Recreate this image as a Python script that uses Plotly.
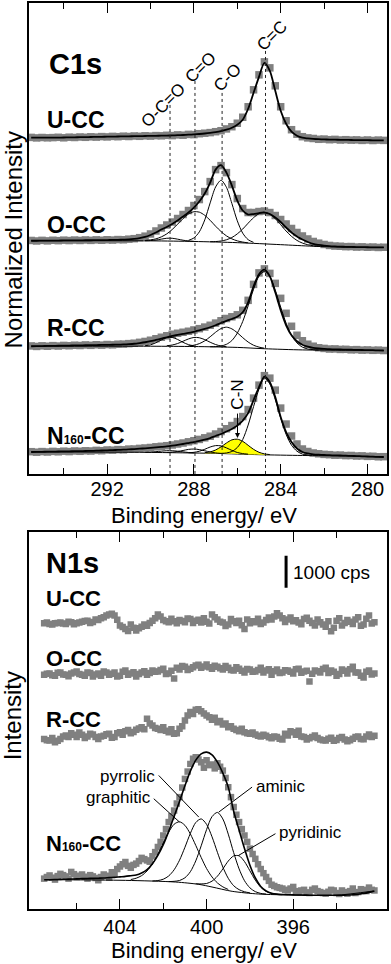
import plotly.graph_objects as go

FONT = "Liberation Sans, Arial, Helvetica, sans-serif"
GRAY = "#808080"

# ------------------------------------------------------------------ C1s data
C1S_BE = [295.5, 295.25, 295.0, 294.75, 294.5, 294.25, 294.0, 293.75, 293.5, 293.25,
          293.0, 292.75, 292.5, 292.25, 292.0, 291.75, 291.5, 291.25, 291.0, 290.75,
          290.5, 290.25, 290.0, 289.75, 289.5, 289.25, 289.0, 288.75, 288.5, 288.25,
          288.0, 287.75, 287.5, 287.25, 287.0, 286.75, 286.5, 286.25, 286.0, 285.75,
          285.5, 285.25, 285.0, 284.75, 284.5, 284.25, 284.0, 283.75, 283.5, 283.25,
          283.0, 282.75, 282.5, 282.25, 282.0, 281.75, 281.5, 281.25, 281.0, 280.75,
          280.5, 280.25, 280.0, 279.75, 279.5, 279.25]

U_C1S_DATA = [337.3, 336.8, 337.2, 336.9, 337.1, 337.4, 336.9, 337.5, 337.2, 337.7,
              337.4, 337.9, 337.6, 338.1, 337.8, 338.3, 338.0, 338.5, 338.2, 338.7,
              338.4, 338.9, 338.6, 339.1, 338.9, 339.4, 339.1, 339.8, 339.5, 340.3,
              340.1, 341.0, 341.5, 342.1, 343.0, 344.0, 345.8, 348.0, 351.5, 357.5,
              368, 385, 400, 413, 407, 389, 368, 354, 345, 340.5,
              338, 336.8, 336.2, 335.4, 335.6, 335.0, 335.3, 334.7, 335.0, 334.6,
              334.8, 334.3, 334.7, 334.2, 334.6, 334.3]
U_C1S_FIT = [337, 337, 337, 337, 337, 337.1, 337.2, 337.3, 337.4, 337.5,
             337.6, 337.7, 337.8, 337.9, 338, 338.1, 338.2, 338.3, 338.4, 338.5,
             338.6, 338.7, 338.8, 338.9, 339, 339.1, 339.3, 339.5, 339.7, 340,
             340.3, 340.7, 341.2, 341.8, 342.5, 343.5, 345, 347, 350, 355,
             366, 382, 398, 412, 404, 384, 364, 351, 343, 339,
             337, 336.3, 335.8, 335.5, 335.3, 335.1, 335, 334.9, 334.8, 334.7,
             334.6, 334.5, 334.5, 334.4, 334.4, 334.3]

O_C1S_DATA = [234.0, 233.5, 234.1, 233.6, 234.2, 233.8, 234.3, 233.9, 234.4, 234.0,
              234.5, 234.1, 234.6, 234.2, 234.7, 234.4, 234.9, 234.7, 235.3, 235.8,
              236.8, 238.3, 240.5, 243.5, 246.5, 249.5, 252.5, 256, 260, 264,
              269, 275, 283, 293, 305, 309, 302, 290, 276, 266,
              262, 262, 263, 263.5, 262, 259, 255, 250.5, 246, 242,
              238.5, 235.5, 233, 231.3, 230, 229, 228.4, 228.2, 227.8, 227.9,
              227.4, 227.6, 227.2, 227.4, 227.0, 227.2]
O_C1S_FIT = [233.7, 233.7, 233.8, 233.8, 233.9, 233.9, 234, 234, 234.1, 234.1,
             234.2, 234.2, 234.3, 234.3, 234.4, 234.5, 234.6, 234.8, 235, 235.5,
             236.3, 237.5, 239.5, 242, 245, 247.5, 250.5, 254, 258, 262,
             267, 273, 281, 292, 305, 309.5, 302, 289, 274, 264,
             260, 260.5, 261.5, 262, 260.5, 257, 252.5, 247, 242, 238,
             235, 232.5, 230.5, 229.5, 228.8, 228.3, 228, 227.8, 227.6, 227.5,
             227.4, 227.3, 227.2, 227.1, 227, 227]
O_BG_BE = [295.5, 290, 288, 286, 284, 282.5, 281, 279.25]
O_BG = [233.7, 233.6, 233.0, 231.8, 229.8, 228.2, 227.3, 227.0]
O_OCO_BE = [290.25, 290.0, 289.75, 289.5, 289.25, 289.0, 288.75, 288.5, 288.25, 288.0]
O_OCO = [233.7, 233.9, 234.4, 235.35, 236.2, 236.2, 235.3, 234.25, 233.5, 233.1]
O_CDO_BE = [290.25, 290.0, 289.75, 289.5, 289.25, 289.0, 288.75, 288.5, 288.25, 288.0,
            287.75, 287.5, 287.25, 287.0, 286.75, 286.5, 286.25, 286.0, 285.75, 285.5]
O_CDO = [234.0, 234.6, 235.6, 237.6, 240.6, 245.0, 250.3, 255.9, 260.4, 262.8,
         262.4, 259.2, 254.2, 248.3, 243.0, 238.6, 235.6, 233.6, 232.4, 231.6]
O_CO_BE = [288.25, 288.0, 287.75, 287.5, 287.25, 287.0, 286.75, 286.5, 286.25, 286.0,
           285.75, 285.5, 285.25]
O_CO = [234.1, 236.5, 242.6, 254.6, 271.7, 287.6, 294.3, 287.3, 271.1, 253.7,
        241.3, 234.8, 232.1]
O_CC_BE = [287.25, 287.0, 286.75, 286.5, 286.25, 286.0, 285.75, 285.5, 285.25, 285.0,
           284.75, 284.5, 284.25, 284.0, 283.75, 283.5, 283.25, 283.0, 282.75, 282.5, 282.25]
O_CC = [232.75, 232.9, 233.45, 234.7, 236.95, 240.6, 245.45, 251.3, 256.85, 260.9,
        262.25, 260.4, 255.85, 249.8, 243.45, 238.1, 234.05, 231.4, 229.7, 228.7, 228.2]

R_C1S_DATA = [128.3, 127.8, 128.4, 128.0, 128.6, 128.2, 128.8, 128.5, 129.0, 128.7,
              129.3, 128.9, 129.5, 129.1, 129.7, 129.4, 130.0, 130.1, 130.6, 131.0,
              131.9, 132.8, 134.0, 135.5, 137, 138.5, 140, 141, 142, 143,
              144.3, 145.6, 147.2, 149, 151.2, 153.5, 155.8, 157.5, 159.5, 164,
              174, 190, 201.5, 205.5, 201, 191, 176, 161, 148, 139,
              133.5, 130, 128, 126.5, 125.8, 125.2, 125.3, 124.8, 124.9, 124.4,
              124.6, 124.1, 124.3, 123.9, 124.1, 123.7]
R_C1S_FIT = [128, 128.1, 128.2, 128.3, 128.4, 128.5, 128.6, 128.7, 128.8, 128.9,
             129, 129.1, 129.2, 129.3, 129.4, 129.5, 129.6, 129.8, 130.1, 130.5,
             131.2, 132, 133, 134.3, 135.6, 137, 138.3, 139.3, 140.3, 141.3,
             142.5, 143.8, 145.3, 147, 149, 151.3, 153.5, 155.3, 157.5, 162,
             172, 188, 200, 204.7, 198, 182, 164, 149, 139, 133,
             129.5, 127.5, 126.3, 125.7, 125.3, 125, 124.9, 124.7, 124.6, 124.5,
             124.3, 124.2, 124.1, 124, 123.8, 123.7]
R_BG_BE = [295.5, 290, 288, 286, 284.75, 283, 281, 279.25]
R_BG = [128, 128, 127.7, 126.8, 125.5, 124.3, 124, 123.7]
R_OCO_BE = [290.25, 290.0, 289.75, 289.5, 289.25, 289.0, 288.75, 288.5, 288.25, 288.0]
R_OCO = [128.5, 129.4, 131.5, 134.3, 136.6, 136.8, 134.8, 131.9, 129.6, 128.4]
R_CDO_BE = [289.25, 289.0, 288.75, 288.5, 288.25, 288.0, 287.75, 287.5, 287.25, 287.0,
            286.75, 286.5]
R_CDO = [128.5, 129.2, 130.7, 133.0, 135.3, 136.8, 136.5, 134.6, 132.0, 129.7, 128.2, 127.5]
R_CO_BE = [288.25, 288.0, 287.75, 287.5, 287.25, 287.0, 286.75, 286.5, 286.25, 286.0,
           285.75, 285.5, 285.25, 285.0, 284.75]
R_CO = [128.3, 129.0, 130.6, 133.4, 137.5, 142.0, 145.7, 147.1, 145.4, 141.5,
        136.6, 132.2, 129.0, 127.1, 126.0]
R_CC_BE = [287.25, 287.0, 286.75, 286.5, 286.25, 286.0, 285.75, 285.5, 285.25, 285.0,
           284.75, 284.5, 284.25, 284.0, 283.75, 283.5, 283.25, 283.0, 282.75, 282.5, 282.25]
R_CC = [127.5, 127.6, 128.2, 129.9, 133.7, 141.1, 152.8, 168.5, 185.1, 198.3,
        203.0, 197.9, 184.3, 167.2, 151.1, 138.9, 131.3, 127.1, 125.2, 124.5, 124.2]

N_C1S_DATA = [22.3, 21.8, 22.4, 22.0, 22.6, 22.2, 22.8, 22.4, 23.0, 22.7,
              23.2, 23.0, 23.6, 23.3, 24.0, 23.8, 24.4, 24.2, 24.9, 25.0,
              25.6, 26.0, 26.5, 27.2, 27.7, 28.3, 29.0, 30.0, 31.0, 32.2,
              33.3, 34.6, 36.2, 37.8, 40.0, 42.5, 45.3, 48.5, 52.5, 57.5,
              64.5, 76, 89, 98.5, 96, 84, 66, 50, 38, 30,
              25, 22.5, 21, 20.2, 19.6, 19.3, 18.8, 18.9, 18.4, 18.5,
              18.0, 18.1, 17.6, 17.7, 17.2, 17.3]
N_C1S_FIT = [22, 22.1, 22.2, 22.3, 22.4, 22.5, 22.6, 22.7, 22.8, 22.9,
             23, 23.1, 23.3, 23.5, 23.7, 23.9, 24.1, 24.3, 24.6, 24.9,
             25.3, 25.7, 26.1, 26.6, 27.1, 27.6, 28.3, 29.1, 30, 31,
             32, 33.2, 34.5, 36, 38, 40, 42.5, 45, 48.5, 53.5,
             61, 74, 87, 97.5, 92, 77, 57, 42, 32, 25.5,
             22, 20.5, 19.7, 19.3, 19, 18.8, 18.6, 18.5, 18.3, 18.1,
             17.9, 17.7, 17.5, 17.3, 17.1, 17]
N_BG_BE = [295.5, 291, 289, 287, 285, 283, 281, 279.25]
N_BG = [22, 21.8, 21.3, 20.6, 19.3, 18.5, 18, 17]
N_OCO_BE = [290.25, 290.0, 289.75, 289.5, 289.25, 289.0, 288.75, 288.5, 288.25, 288.0]
N_OCO = [21.6, 21.9, 22.3, 22.85, 23.25, 23.25, 22.8, 22.1, 21.5, 21.05]
N_CDO_BE = [289.25, 289.0, 288.75, 288.5, 288.25, 288.0, 287.75, 287.5, 287.25, 287.0, 286.75]
N_CDO = [21.5, 21.8, 22.5, 23.5, 24.6, 24.95, 24.4, 23.2, 22.0, 21.1, 20.6]
N_CO_BE = [288.25, 288.0, 287.75, 287.5, 287.25, 287.0, 286.75, 286.5, 286.25, 286.0,
           285.75, 285.5]
N_CO = [21.25, 21.65, 22.75, 24.7, 27.0, 28.4, 28.1, 26.1, 23.6, 21.5, 20.4, 19.8]
N_CN_BE = [287.5, 287.25, 287.0, 286.75, 286.5, 286.25, 286.0, 285.75, 285.5, 285.25,
           285.0, 284.75, 284.5]
N_CN = [21.3, 22.1, 24.0, 27.15, 31.0, 34.15, 34.85, 32.7, 28.7, 24.65, 21.7, 20.1, 19.4]
N_CN_BASE = [20.8, 20.7, 20.6, 20.45, 20.3, 20.15, 19.95, 19.8, 19.6, 19.45, 19.3, 19.2, 19.1]
N_CC_BE = [286.75, 286.5, 286.25, 286.0, 285.75, 285.5, 285.25, 285.0, 284.75, 284.5,
           284.25, 284.0, 283.75, 283.5, 283.25, 283.0, 282.75]
N_CC = [20.6, 21.0, 22.5, 26.5, 34.5, 49, 67.5, 85, 96.2, 90.1,
        74.6, 55.9, 39.7, 28.8, 22.8, 19.9, 18.9]

C1S_PEAK_NAMES = ["O-C=O", "C=O", "C-O", "C=C"]
C1S_PEAK_BE = [289.1, 287.95, 286.7, 284.7]
C1S_TICKS = [292, 288, 284, 280]
C1S_MINOR = [294, 290, 286, 282]
SAMPLES = ["U-CC", "O-CC", "R-CC", 'N<span style="font-size:12px">160</span>-CC']

# ------------------------------------------------------------------ N1s data (cps)
N1S_BE = [407.5, 407.25, 407.0, 406.75, 406.5, 406.25, 406.0, 405.75, 405.5, 405.25,
          405.0, 404.75, 404.5, 404.25, 404.0, 403.75, 403.5, 403.25, 403.0, 402.75,
          402.5, 402.25, 402.0, 401.75, 401.5, 401.25, 401.0, 400.75, 400.5, 400.25,
          400.0, 399.75, 399.5, 399.25, 399.0, 398.75, 398.5, 398.25, 398.0, 397.75,
          397.5, 397.25, 397.0, 396.75, 396.5, 396.25, 396.0, 395.75, 395.5, 395.25,
          395.0, 394.75, 394.5, 394.25, 394.0, 393.75, 393.5, 393.25, 393.0, 392.75,
          392.5, 392.25]
N1S_BE_B = [407.375, 407.125, 406.875, 406.625, 406.375, 406.125, 405.875, 405.625,
            405.375, 405.125, 404.875, 404.625, 404.375, 404.125, 403.875, 403.625,
            403.375, 403.125, 402.875, 402.625, 402.375, 402.125, 401.875, 401.625,
            401.375, 401.125, 400.875, 400.625, 400.375, 400.125, 399.875, 399.625,
            399.375, 399.125, 398.875, 398.625, 398.375, 398.125, 397.875, 397.625,
            397.375, 397.125, 396.875, 396.625, 396.375, 396.125, 395.875, 395.625,
            395.375, 395.125, 394.875, 394.625, 394.375, 394.125, 393.875, 393.625,
            393.375, 393.125, 392.875, 392.625, 392.375]
U_N1S = [8940, 8920, 8940, 8960, 8920, 8970, 8940, 8990, 9020, 8980,
         9040, 9130, 9210, 9180, 8870, 8760, 8900, 8710, 8830, 8860,
         9020, 9210, 9040, 8970, 9000, 9040, 8970, 9070, 9020, 8960,
         8990, 9210, 9060, 8960, 8900, 9000, 9020, 8760, 8940, 8970,
         8920, 9040, 9060, 9250, 9100, 9060, 9000, 8960, 9070, 9020,
         8870, 8970, 8830, 8690, 9020, 8870, 9040, 8920, 9130, 8900,
         9180, 8970]
U_N1S_B = [8960, 8900, 8950, 8930, 8990, 8910, 8960, 9010, 8950, 9060,
           9100, 9180, 9240, 9050, 8820, 8700, 8800, 8780, 8900, 8950,
           9100, 9150, 9000, 9080, 8940, 9010, 9090, 8950, 9050, 9100,
           8930, 9130, 8990, 8850, 9070, 8950, 8880, 9060, 9000, 9080,
           8960, 9120, 9150, 9180, 8980, 9120, 9030, 8910, 9110, 8950,
           9060, 8900, 9000, 8800, 9100, 8950, 8990, 9060, 8860, 9080,
           8930]
O_N1S = [7330, 7370, 7300, 7400, 7330, 7370, 7430, 7330, 7400, 7270,
         7370, 7430, 7330, 7400, 7300, 7460, 7370, 7270, 7400, 7330,
         7460, 7430, 7520, 7370, 7210, 7490, 7580, 7520, 7620, 7550,
         7650, 7520, 7580, 7490, 7550, 7460, 7520, 7400, 7490, 7430,
         7550, 7460, 7330, 7490, 7400, 7460, 7370, 7520, 7430, 7120,
         7460, 7400, 7550, 7460, 7300, 7490, 7370, 7580, 7400, 7240,
         7460, 7370]
O_N1S_B = [7360, 7310, 7390, 7340, 7280, 7400, 7350, 7300, 7380, 7340,
           7300, 7400, 7360, 7270, 7420, 7330, 7410, 7350, 7440, 7380,
           7420, 7480, 7350, 7450, 7550, 7600, 7480, 7560, 7640, 7590,
           7560, 7610, 7530, 7600, 7480, 7560, 7450, 7510, 7420, 7480,
           7400, 7500, 7440, 7380, 7470, 7420, 7500, 7390, 7450, 7360,
           7440, 7510, 7380, 7420, 7350, 7450, 7500, 7400, 7300, 7420,
           7340]
R_N1S = [5320, 5270, 5220, 5320, 5430, 5500, 5380, 5450, 5400, 5460,
         5320, 5420, 5480, 5380, 5530, 5560, 5500, 5610, 5690, 5950,
         5740, 5640, 5690, 5530, 5480, 5640, 5900, 6160, 6230, 6190,
         6050, 5920, 5840, 5770, 5690, 5640, 5560, 5530, 5480, 5460,
         5400, 5420, 5340, 5380, 5300, 5430, 5530, 5580, 5380, 5340,
         5430, 5300, 5270, 5360, 5290, 5380, 5250, 5330, 5400, 5310,
         5460, 5420]
R_N1S_B = [5280, 5350, 5260, 5400, 5380, 5450, 5520, 5350, 5480, 5380,
           5400, 5470, 5360, 5500, 5450, 5600, 5540, 5650, 5620, 5800,
           5660, 5600, 5580, 5620, 5500, 5720, 6050, 6100, 6250, 6120,
           6000, 5980, 5880, 5800, 5720, 5600, 5640, 5500, 5520, 5420,
           5450, 5370, 5400, 5330, 5480, 5560, 5450, 5400, 5300, 5380,
           5350, 5280, 5330, 5260, 5350, 5300, 5280, 5380, 5320, 5400,
           5380]
N_N1S = [950, 1050, 920, 1100, 1020, 1160, 1000, 1080, 950, 1020,
         900, 1080, 980, 1100, 1330, 1470, 1290, 1420, 1600, 1520,
         1650, 1940, 2300, 2720, 3080, 3500, 4070, 4540, 4750, 4590,
         4650, 4520, 4560, 4330, 3810, 3190, 2720, 2300, 1890, 1570,
         1250, 1000, 760, 680, 640, 580, 690, 530, 600, 500,
         640, 530, 480, 600, 500, 580, 480, 640, 530, 600,
         670, 580]
N_N1S_B = [1000, 980, 1030, 1060, 950, 1090, 1040, 1010, 1060, 970,
           1000, 1040, 1150, 1250, 1400, 1350, 1380, 1500, 1560, 1480,
           1780, 2100, 2500, 2900, 3300, 3800, 4300, 4700, 4680, 4420,
           4500, 4400, 4450, 4100, 3500, 2950, 2500, 2100, 1720, 1400,
           1120, 880, 720, 660, 600, 640, 560, 580, 520, 600,
           560, 500, 540, 580, 470, 530, 560, 500, 620, 560,
           600]
N_N1S_FIT = [917, 917, 922, 928, 933, 938, 943, 949, 954, 959,
             964, 969, 980, 990, 1006, 1021, 1042, 1063, 1126, 1230,
             1417, 1678, 2011, 2428, 2896, 3365, 3855, 4313, 4657, 4855,
             4907, 4824, 4594, 4251, 3813, 3060, 2470, 1890, 1370, 970,
             705, 565, 495, 465, 452, 446, 442, 438, 435, 432,
             430, 429, 428, 428, 429, 432, 438, 447, 462, 485,
             520, 565]
N_N1S_BG_BE = [407.44, 403.75, 401.44, 400.36, 399.75, 398.82, 397.6, 396.05, 394.06, 392.29]
N_N1S_BG = [917, 896, 844, 771, 688, 553, 469, 438, 428, 563]
GRAPHITIC_BE = [403.5, 403.25, 403.0, 402.75, 402.5, 402.25, 402.0, 401.75, 401.5, 401.25,
                401.0, 400.75, 400.5, 400.25, 400.0, 399.75, 399.5, 399.25, 399.0]
GRAPHITIC = [922, 964, 1044, 1189, 1411, 1716, 2067, 2406, 2652, 2729,
             2617, 2348, 1990, 1612, 1265, 1002, 815, 693, 611]
PYRROLIC_BE = [402.5, 402.25, 402.0, 401.75, 401.5, 401.25, 401.0, 400.75, 400.5, 400.25,
               400.0, 399.75, 399.5, 399.25, 399.0, 398.75, 398.5, 398.25, 398.0]
PYRROLIC = [877, 890, 932, 1033, 1226, 1527, 1931, 2366, 2706, 2819,
            2648, 2260, 1773, 1313, 960, 728, 605, 540, 505]
AMINIC_BE = [401.75, 401.5, 401.25, 401.0, 400.75, 400.5, 400.25, 400.0, 399.75, 399.5,
             399.25, 399.0, 398.75, 398.5, 398.25, 398.0, 397.75, 397.5, 397.25]
AMINIC = [858, 866, 892, 976, 1166, 1505, 1977, 2485, 2890, 3022,
          2817, 2342, 1765, 1255, 885, 662, 543, 488, 467]
PYRIDINIC_BE = [400.5, 400.25, 400.0, 399.75, 399.5, 399.25, 399.0, 398.75, 398.5, 398.25,
                398.0, 397.75, 397.5, 397.25, 397.0, 396.75, 396.5]
PYRIDINIC = [788, 785, 798, 871, 1026, 1254, 1500, 1661, 1664, 1484,
             1194, 902, 681, 553, 488, 458, 446]
N1S_COMP_NAMES = ["graphitic", "pyrrolic", "aminic", "pyridinic"]
N1S_TICKS = [404, 400, 396]
N1S_MINOR = [406, 402, 398, 394]
SCALE_BAR_CPS = 1000

# ------------------------------------------------------------------ figure
fig = go.Figure()


def data_trace(x, y, xa, ya, size):
    fig.add_trace(go.Scatter(x=x, y=y, mode="markers", xaxis=xa, yaxis=ya,
                             marker=dict(symbol="square", size=size, color=GRAY,
                                         line=dict(width=0)),
                             hoverinfo="skip"))


def line_trace(x, y, xa, ya, width, **kw):
    fig.add_trace(go.Scatter(x=x, y=y, mode="lines", xaxis=xa, yaxis=ya,
                             line=dict(color="black", width=width, shape="spline",
                                       smoothing=0.8),
                             hoverinfo="skip", **kw))


# C1s panel
for d in (U_C1S_DATA, O_C1S_DATA, R_C1S_DATA, N_C1S_DATA):
    data_trace(C1S_BE, d, "x", "y", 7.5)

for bx, by in ((O_BG_BE, O_BG), (R_BG_BE, R_BG), (N_BG_BE, N_BG)):
    line_trace(bx, by, "x", "y", 1)

# yellow C-N area
fig.add_trace(go.Scatter(x=N_CN_BE, y=N_CN_BASE, mode="lines", xaxis="x", yaxis="y",
                         line=dict(color="rgba(0,0,0,0)", width=0, shape="spline"),
                         hoverinfo="skip"))
fig.add_trace(go.Scatter(x=N_CN_BE, y=N_CN, mode="lines", xaxis="x", yaxis="y",
                         fill="tonexty", fillcolor="#ffff00",
                         line=dict(color="black", width=1, shape="spline", smoothing=0.8),
                         hoverinfo="skip"))

for cx, cy in ((O_OCO_BE, O_OCO), (O_CDO_BE, O_CDO), (O_CO_BE, O_CO), (O_CC_BE, O_CC),
               (R_OCO_BE, R_OCO), (R_CDO_BE, R_CDO), (R_CO_BE, R_CO), (R_CC_BE, R_CC),
               (N_OCO_BE, N_OCO), (N_CDO_BE, N_CDO), (N_CO_BE, N_CO), (N_CC_BE, N_CC)):
    line_trace(cx, cy, "x", "y", 1)

for f in (U_C1S_FIT, O_C1S_FIT, R_C1S_FIT, N_C1S_FIT):
    line_trace(C1S_BE, f, "x", "y", 1.8)

# N1s panel
for d in (U_N1S, O_N1S, R_N1S, N_N1S):
    data_trace(N1S_BE, d, "x2", "y2", 6.5)
for d in (U_N1S_B, O_N1S_B, R_N1S_B, N_N1S_B):
    data_trace(N1S_BE_B, d, "x2", "y2", 6.5)
line_trace(N_N1S_BG_BE, N_N1S_BG, "x2", "y2", 1)
for cx, cy in ((GRAPHITIC_BE, GRAPHITIC), (PYRROLIC_BE, PYRROLIC),
               (AMINIC_BE, AMINIC), (PYRIDINIC_BE, PYRIDINIC)):
    line_trace(cx, cy, "x2", "y2", 1)
line_trace(N1S_BE, N_N1S_FIT, "x2", "y2", 1.6)

# ------------------------------------------------------------------ decorations
shapes = []
annotations = []

# C1s dotted reference lines and rotated labels
line_tops = [371, 395, 385, 425]
label_pos = [(289.43, 369.7), (287.69, 407.3), (286.45, 397.3), (284.38, 439)]
for be, top, name, (lx, ly) in zip(C1S_PEAK_BE, line_tops, C1S_PEAK_NAMES, label_pos):
    shapes.append(dict(type="line", xref="x", yref="y", x0=be, x1=be, y0=0, y1=top,
                       line=dict(color="#222222", width=1, dash="dot")))
    annotations.append(dict(x=lx, y=ly, xref="x", yref="y", text=name, showarrow=False,
                            textangle=-45, font=dict(family=FONT, size=17, color="black")))

# C-N label with arrow
annotations.append(dict(x=285.99, y=79, xref="x", yref="y", text="C-N", showarrow=False,
                        textangle=-90, font=dict(family=FONT, size=17, color="black")))
annotations.append(dict(x=285.99, y=36, xref="x", yref="y", ax=285.99, ay=62,
                        axref="x", ayref="y", text="", showarrow=True, arrowhead=2,
                        arrowsize=1, arrowwidth=1, arrowcolor="black", standoff=0))

# panel titles and sample names
annotations.append(dict(x=294.76, y=411, xref="x", yref="y", text="<b>C1s</b>",
                        showarrow=False, xanchor="left", yanchor="middle",
                        font=dict(family=FONT, size=29, color="black")))
for name, yy in zip(SAMPLES, [354.5, 250, 146, 38]):
    annotations.append(dict(x=294.84, y=yy, xref="x", yref="y", text="<b>%s</b>" % name,
                            showarrow=False, xanchor="left", yanchor="middle",
                            font=dict(family=FONT, size=23, color="black")))

annotations.append(dict(x=407.53, y=10834, xref="x2", yref="y2", text="<b>N1s</b>",
                        showarrow=False, xanchor="left", yanchor="middle",
                        font=dict(family=FONT, size=29, color="black")))
for name, yy in zip(SAMPLES, [9725, 7850, 5944, 2038]):
    annotations.append(dict(x=407.53, y=yy, xref="x2", yref="y2", text="<b>%s</b>" % name,
                            showarrow=False, xanchor="left", yanchor="middle",
                            font=dict(family=FONT, size=22, color="black")))

# scale bar
shapes.append(dict(type="line", xref="x2", yref="y2", x0=396.33, x1=396.33,
                   y0=10053, y1=10053 + SCALE_BAR_CPS, line=dict(color="black", width=3)))
annotations.append(dict(x=396.12, y=10531, xref="x2", yref="y2",
                        text="%d cps" % SCALE_BAR_CPS, showarrow=False,
                        xanchor="left", yanchor="middle",
                        font=dict(family=FONT, size=19, color="black")))

# N1s component labels with leader lines
lab_pos = [(402.49, 3500, "right"), (402.28, 4147, "right"),
           (397.83, 3844, "left"), (396.75, 2406, "left")]
leaders = [(402.44, 3450, 401.25, 2719), (402.21, 4178, 400.36, 2875),
           (397.90, 3813, 399.44, 3031), (396.82, 2356, 398.52, 1678)]
for name, (lx, ly, anc), (x0, y0, x1, y1) in zip(N1S_COMP_NAMES, lab_pos, leaders):
    annotations.append(dict(x=lx, y=ly, xref="x2", yref="y2", text=name, showarrow=False,
                            xanchor=anc, yanchor="middle",
                            font=dict(family=FONT, size=17, color="black")))
    shapes.append(dict(type="line", xref="x2", yref="y2", x0=x0, y0=y0, x1=x1, y1=y1,
                       line=dict(color="black", width=1)))

# axis titles
for yy in (0.4345, -0.0463):
    annotations.append(dict(x=0.489, y=yy, xref="paper", yref="paper",
                            text="Binding energy/ eV", showarrow=False,
                            xanchor="center", yanchor="middle",
                            font=dict(family=FONT, size=22, color="black")))
annotations.append(dict(x=-0.0435, y=0.7384, xref="paper", yref="paper",
                        text="Normalized Intensity", showarrow=False, textangle=-90,
                        xanchor="center", yanchor="middle",
                        font=dict(family=FONT, size=24, color="black")))
annotations.append(dict(x=-0.0435, y=0.2131, xref="paper", yref="paper",
                        text="Intensity", showarrow=False, textangle=-90,
                        xanchor="center", yanchor="middle",
                        font=dict(family=FONT, size=24, color="black")))


def xaxis_style(ticks, minor, rng, anchor, standoff):
    return dict(showgrid=False, zeroline=False, showline=True, linecolor="black",
                linewidth=1.5, mirror="ticks", ticks="inside", ticklen=10, tickwidth=1.3,
                tickcolor="black", tickmode="array", tickvals=ticks,
                ticktext=[str(t) for t in ticks], ticklabelstandoff=standoff,
                tickfont=dict(family=FONT, size=20, color="black"),
                minor=dict(tickmode="array", tickvals=minor, ticks="inside", ticklen=6,
                           tickwidth=1.3, tickcolor="black", showgrid=False),
                domain=[0, 1], range=rng, anchor=anchor)


ycommon = dict(showgrid=False, zeroline=False, showline=True, linecolor="black",
               linewidth=1.5, mirror=True, ticks="", showticklabels=False)

fig.update_layout(
    width=391, height=964, showlegend=False,
    margin=dict(l=29, r=4, t=1, b=55),
    paper_bgcolor="white", plot_bgcolor="white",
    font=dict(family=FONT, color="black"),
    xaxis=xaxis_style(C1S_TICKS, C1S_MINOR, [295.6, 279.1], "y", -4),
    yaxis=dict(ycommon, domain=[0.4802, 1], range=[0, 472], anchor="x"),
    xaxis2=xaxis_style(N1S_TICKS, N1S_MINOR, [408.2, 391.67], "y2", -1),
    yaxis2=dict(ycommon, domain=[0, 0.4163], range=[0, 11800], anchor="x2"),
    shapes=shapes, annotations=annotations,
)

fig.write_html("out.html", config={"displayModeBar": False},
               post_script="document.body.style.margin='0px';"
                           "document.body.style.overflow='hidden';")
